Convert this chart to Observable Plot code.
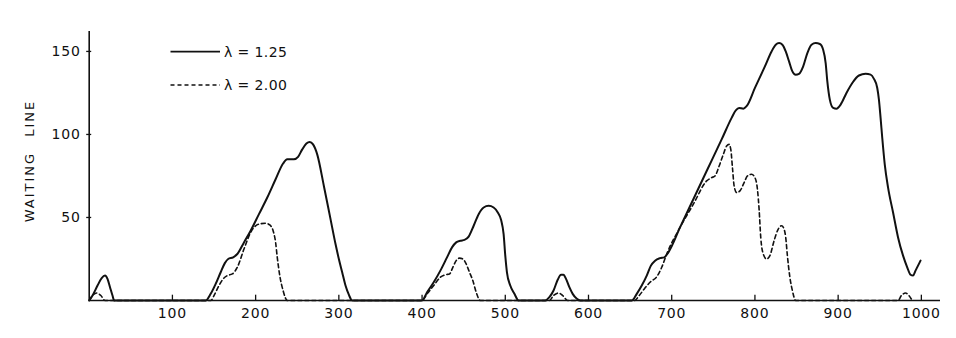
<!DOCTYPE html>
<html>
<head>
<meta charset="utf-8">
<script src="https://cdn.jsdelivr.net/npm/d3@7"></script>
<script src="https://cdn.jsdelivr.net/npm/@observablehq/plot@0.6"></script>
<style>
  html, body { margin: 0; padding: 0; background: #fff; }
  #wrap { position: relative; width: 956px; height: 338px; font-family: "DejaVu Sans", sans-serif; color: #111; }
  #ylab { position: absolute; left: 29px; top: 160.5px; transform: translate(-50%, -50%) rotate(-90deg); font-size: 13px; letter-spacing: 2px; word-spacing: 9px; white-space: nowrap; }
  .legtxt { position: absolute; font-size: 14px; letter-spacing: 0.4px; white-space: nowrap; transform: translateY(-50%); }
  #legsvg { position: absolute; left: 0; top: 0; }
</style>
</head>
<body>
<div id="wrap">
  <div id="chart"></div>
  <div id="ylab">WAITING LINE</div>
</div>
<script>
// ---- data ----
const xTicks = [100, 200, 300, 400, 500, 600, 700, 800, 900, 1000];
const yTicks = [50, 100, 150];
const seriesNames = ["λ = 1.25", "λ = 2.00"];

// waiting line, lambda = 1.25 (solid)
const lambda125 = [
  [0,0],[4,3],[10,9],[15,13.5],[19,15],[22,13],[25,8],[28,3],[30,0],
  [140,0],[146,4],[152,10],[158,17],[163,22.5],[167,25],[173,26],[178,28],[186,35],[194,42],[204,52],[214,62],[224,73],[233,82.5],[238,85],[246,85],[251,86.5],[256,91],[261,94.5],[265,95.5],[269,94],[274,88],[282,69],[290,49],[296,34],[300,25],[304,17],[308,9],[312,3.5],[316,0],
  [400,0],[406,5],[414,11],[422,18],[430,26],[436,32],[441,35],[446,36],[451,36.5],[456,38.5],[462,45],[468,52],[474,56],[480,57],[486,56],[491,53],[495,48.5],[498,40],[500,27],[502,17],[506,9],[511,4],[516,0],
  [548,0],[553,2],[558,6],[563,12.5],[567,15.5],[570,15.5],[573,13],[577,8],[581,4],[586,1],[590,0],
  [652,0],[658,4],[664,9],[670,15],[675,21],[680,24],[686,25.5],[691,26],[696,29],[710,44],[726,61],[742,78],[760,97],[772,110],[777,114.5],[781,116],[786,115.5],[790,117],[800,128],[812,141],[820,150],[825,154],[829,155],[833,154],[837,150],[841,144],[845,138],[849,136],[853,136.5],[858,141],[863,149],[868,154],[873,155],[878,154.5],[882,151],[885,143],[887,132],[890,121],[894,116],[898,115.5],[903,118],[910,125],[917,131],[925,135.5],[933,136.5],[939,136],[943,133.5],[947,128],[949,121],[951,110],[953,98],[956,82],[960,68],[966,53],[972,38],[978,27],[983,20],[987,15.5],[990,15],[993,18],[996,21],[999,24]
];

// waiting line, lambda = 2.00 (dashed)
const lambda200 = [
  [0,0],[4,3],[9,4.5],[14,3],[19,0],
  [146,0],[151,4],[156,9],[161,13],[166,15],[172,16],[178,20],[186,31],[194,41],[200,45],[206,46.2],[212,46.5],[217,45.5],[221,42],[224,35],[226,26],[229,15],[233,6],[238,0],
  [400,0],[406,4],[414,9],[422,14],[428,15.5],[433,16],[437,20],[441,24],[445,25.5],[449,25],[453,22],[457,17],[461,12],[465,5],[470,0],
  [553,0],[558,3],[564,4.5],[569,3],[575,0],
  [655,0],[661,3],[667,7],[674,11],[683,15],[688,20],[694,28],[710,44],[726,58],[742,72],[748,74],[752,75],[757,81],[762,88],[766,93],[769,94],[771,91],[773,80],[775,69],[778,65],[782,66],[787,71],[791,75],[796,76],[800,74],[803,67],[805,55],[807,38],[810,28],[814,25],[818,27],[823,36],[828,43],[832,45],[835,43],[837,38],[839,27],[842,14],[845,6],[849,0],
  [972,0],[976,3],[981,4.5],[985,3],[989,0]
];

const ink = "#111";
const font = "DejaVu Sans, sans-serif";

const chart = Plot.plot({
  width: 956,
  height: 338,
  marginLeft: 88.7,
  marginRight: 16,
  marginTop: 31,
  marginBottom: 38,
  style: { fontFamily: font, color: ink, background: "#fff", overflow: "visible" },
  x: { domain: [0, 1023] },
  y: { domain: [0, 162] },
  marks: [
    Plot.axisX({ ticks: xTicks, tickSize: 0, tickPadding: 8, fontSize: 14, label: null, tickFormat: d => String(d), fill: ink }),
    Plot.axisY({ ticks: yTicks, tickSize: 0, tickPadding: 8.5, fontSize: 14, label: null, tickFormat: d => String(d), fill: ink }),
    Plot.ruleX(xTicks, { x: d => d, y1: 0, y2: 3.2, stroke: ink, strokeWidth: 1.3 }),
    Plot.ruleY(yTicks, { y: d => d, x1: -3, x2: 3, stroke: ink, strokeWidth: 1.3 }),
    Plot.ruleX([0], { stroke: ink, strokeWidth: 1.6 }),
    Plot.ruleY([0], { stroke: ink, strokeWidth: 1.6 }),
    Plot.line(lambda200, { x: d => d[0], y: d => d[1], curve: "monotone-x", stroke: ink, strokeWidth: 1.6, strokeDasharray: "4,3" }),
    Plot.line(lambda125, { x: d => d[0], y: d => d[1], curve: "monotone-x", stroke: ink, strokeWidth: 2 })
  ]
});
chart.querySelectorAll("text").forEach(t => t.style.letterSpacing = "0.8px");
document.getElementById("chart").appendChild(chart);

// legend
const wrap = document.getElementById("wrap");
const legRows = [
  { name: seriesNames[0], y: 51.7, dash: null },
  { name: seriesNames[1], y: 85, dash: "4,3" }
];
const ns = "http://www.w3.org/2000/svg";
const lsvg = document.createElementNS(ns, "svg");
lsvg.setAttribute("id", "legsvg");
lsvg.setAttribute("width", 956);
lsvg.setAttribute("height", 120);
legRows.forEach(r => {
  const ln = document.createElementNS(ns, "line");
  ln.setAttribute("x1", 170.5); ln.setAttribute("x2", 220);
  ln.setAttribute("y1", r.y); ln.setAttribute("y2", r.y);
  ln.setAttribute("stroke", ink);
  ln.setAttribute("stroke-width", r.dash ? 1.6 : 1.8);
  if (r.dash) ln.setAttribute("stroke-dasharray", r.dash);
  lsvg.appendChild(ln);
  const tx = document.createElement("div");
  tx.className = "legtxt";
  tx.style.left = "224px";
  tx.style.top = r.y + "px";
  tx.textContent = r.name;
  wrap.appendChild(tx);
});
wrap.appendChild(lsvg);
</script>
</body>
</html>
